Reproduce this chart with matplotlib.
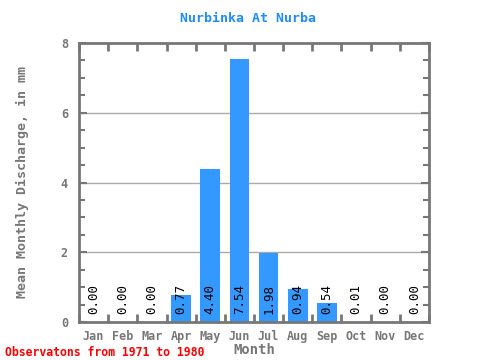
import matplotlib
matplotlib.use("Agg")
import matplotlib.pyplot as plt
import numpy as np
from matplotlib.ticker import MultipleLocator

months = ['Jan', 'Feb', 'Mar', 'Apr', 'May', 'Jun', 'Jul', 'Aug', 'Sep', 'Oct', 'Nov', 'Dec']
discharge = [0.00, 0.00, 0.00, 0.77, 4.40, 7.54, 1.98, 0.94, 0.54, 0.01, 0.00, 0.00]

gray = '#777777'
plt.rcParams['font.family'] = ['DejaVu Sans Mono']

fig = plt.figure(figsize=(4.8, 3.6), dpi=100)
ax = fig.add_axes([79 / 480, 38 / 360, 350 / 480, 279 / 360])

x = np.arange(len(months))
ax.bar(x, discharge, width=0.68, color='#3399ff', zorder=2)

for xi, v in zip(x, discharge):
    ax.text(xi, 0.22, f'{v:.2f}', rotation=90, ha='center', va='bottom',
            fontsize=9, color='black', zorder=3)

ax.set_xlim(-0.5, 11.5)
ax.set_ylim(0, 8)
ax.set_yticks([0, 2, 4, 6, 8])
ax.yaxis.set_minor_locator(MultipleLocator(0.5))
ax.set_xticks(x)
ax.set_xticklabels(months)
ax.set_xticks(np.arange(-0.5, 12, 1), minor=True)

for yv in [2, 4, 6]:
    ax.axhline(yv, color='#aaaaaa', lw=1, zorder=1)

for s in ax.spines.values():
    s.set_color(gray)
    s.set_linewidth(2)

ax.tick_params(axis='x', which='major', length=0, pad=6, labelsize=8.5, labelcolor=gray)
ax.tick_params(axis='x', which='minor', direction='in', length=6, width=2, color=gray,
               top=True, bottom=True)
ax.tick_params(axis='y', which='major', direction='in', length=6, width=1.5, color=gray,
               left=True, right=True, labelsize=8.5, labelcolor=gray, pad=8)
ax.tick_params(axis='y', which='minor', direction='in', length=4, width=1.5, color=gray,
               left=True, right=True)
for lab in ax.get_xticklabels() + ax.get_yticklabels():
    lab.set_fontweight('bold')

fig.text(248 / 480, 1 - 18 / 360, 'Nurbinka At Nurba', color='#1a8cff', fontsize=9.5,
         fontweight='bold', ha='center', va='center')
ax.set_xlabel('Month', color=gray, fontsize=10, fontweight='bold', labelpad=0)
ax.set_ylabel('Mean Monthly Discharge, in mm', color=gray, fontsize=9.6,
              fontweight='bold', labelpad=23)

fig.text(5 / 480, 1 - 352 / 360, 'Observatons from 1971 to 1980', color='red',
         fontsize=8.3, fontweight='bold', va='center', ha='left')

fig.savefig('out.png', dpi=100)
